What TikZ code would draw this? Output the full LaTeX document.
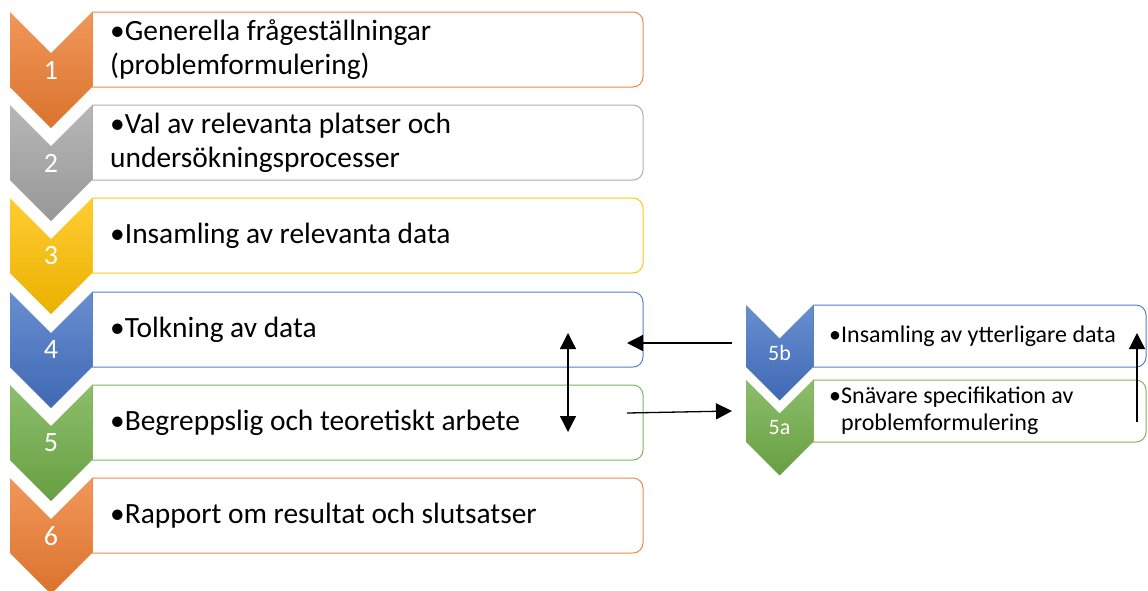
\documentclass[tikz,border=0pt]{standalone}
\usepackage{fontspec}
\setmainfont{Carlito}
\usetikzlibrary{arrows.meta}
\definecolor{cOrange}{HTML}{ED7D31}
\definecolor{cGray}{HTML}{A5A5A5}
\definecolor{cGold}{HTML}{FFC000}
\definecolor{cBlue}{HTML}{4472C4}
\definecolor{cGreen}{HTML}{70AD47}
\tikzset{
  boxline/.style={line width=1pt},
  numtxt/.style={text=white,inner sep=0pt,font=\fontsize{28}{30}\selectfont},
  subnum/.style={text=white,inner sep=0pt,font=\fontsize{22}{24}\selectfont},
  maintxt/.style={anchor=west,align=left,inner sep=0pt,font=\fontsize{29.4}{34}\selectfont},
  subtxt/.style={anchor=west,align=left,inner sep=0pt,font=\fontsize{24}{27}\selectfont},
  arr/.style={line width=1.3pt,-{Triangle[length=16pt,width=16pt]}},
  dblarr/.style={line width=1.3pt,{Triangle[length=16pt,width=16pt]}-{Triangle[length=16pt,width=16pt]}},
}
\newcommand\mainstep[5]{%
  \draw[#2!90!white,boxline,rounded corners=10pt] (92,#1) -- (643,#1) -- (643,#1+75) -- (92,#1+75);
  \shade[top color=#2!80!white,middle color=#2,bottom color=#2!92!black] (10,#1) -- (51,#1+41) -- (92,#1) -- (92,#1+75) -- (51,#1+116) -- (10,#1+75) -- cycle;
  \draw[#2!90!white,boxline] (92,#1) -- (92,#1+75);
  \node[numtxt] (#5n) at (51,#1+58) {#3};
  \node[maintxt] (#5t) at (110,#1+37.5) {#4};
}
\newcommand\substep[5]{%
  \draw[#2!90!white,boxline,rounded corners=10pt] (813,#1) -- (1146,#1) -- (1146,#1+62) -- (813,#1+62);
  \shade[top color=#2!80!white,middle color=#2,bottom color=#2!92!black] (746,#1) -- (779.5,#1+33.5) -- (813,#1) -- (813,#1+62) -- (779.5,#1+95.5) -- (746,#1+62) -- cycle;
  \draw[#2!90!white,boxline] (813,#1) -- (813,#1+62);
  \node[subnum] (#5n) at (779.5,#1+48) {#3};
  \node[subtxt] (#5t) at (829,#1+31) {#4};
}
\begin{document}
\begin{tikzpicture}[x=1pt,y=-1pt]
\useasboundingbox (0,0) rectangle (1148,590);
\fill[white] (0,0) rectangle (1148,590);
\mainstep{12}{cOrange}{1}{•Generella frågeställningar\\(problemformulering)}{s1}
\mainstep{105}{cGray}{2}{•Val av relevanta platser och\\undersökningsprocesser}{s2}
\mainstep{198}{cGold}{3}{•Insamling av relevanta data}{s3}
\mainstep{292}{cBlue}{4}{•Tolkning av data}{s4}
\mainstep{385}{cGreen}{5}{•Begreppslig och teoretiskt arbete}{s5}
\mainstep{478}{cOrange}{6}{•Rapport om resultat och slutsatser}{s6}
\substep{305}{cBlue}{5b}{•Insamling av ytterligare data}{s5b}
\substep{380}{cGreen}{5a}{•Snävare specifikation av\\\hphantom{•}problemformulering}{s5a}
% connector end points
\coordinate (dA) at (568,333);
\coordinate (dB) at (568,432);
\coordinate (lA) at (732,343);
\coordinate (lB) at (627,343);
\coordinate (rA) at (627,413);
\coordinate (rB) at (732,411);
\coordinate (uA) at (1137,422);
\coordinate (uB) at (1137,333);
\draw[dblarr] (dA) -- (dB);
\draw[arr] (lA) -- (lB);
\draw[arr] (rA) -- (rB);
\draw[arr] (uA) -- (uB);
\end{tikzpicture}
\end{document}
